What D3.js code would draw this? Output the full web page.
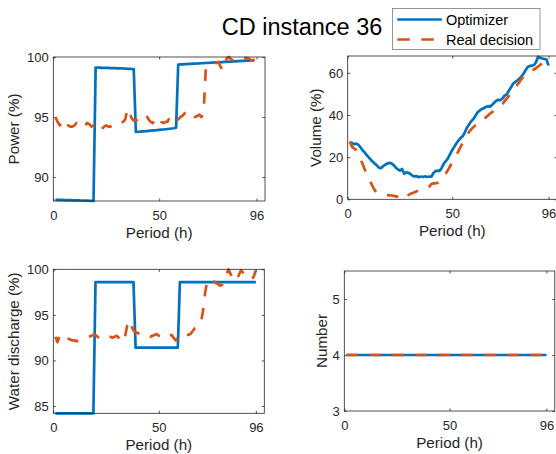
<!DOCTYPE html>
<html><head><meta charset="utf-8">
<script src="https://cdn.jsdelivr.net/npm/d3@7"></script>
<style>
html,body{margin:0;padding:0;background:#fff;}
svg{display:block;font-family:"Liberation Sans",Arial,Helvetica,sans-serif;}
</style></head>
<body>
<svg id="chart" width="556" height="454"></svg>
<script>
// ---------- data ----------
const periods = d3.range(1, 97); // hours 1..96
const xTicks = [0, 50, 96];
const seriesNames = ["Optimizer", "Real decision"];
const titleText = "CD instance 36";

const powerOpt = [
88.10,88.10,88.09,88.09,88.08,88.08,88.07,88.07,88.06,88.06,88.05,88.05,88.04,88.04,88.03,88.03,88.02,88.01,88.00,
99.12,99.11,99.11,99.10,99.10,99.09,99.09,99.08,99.07,99.07,99.06,99.05,99.05,99.04,99.03,99.02,99.01,99.00,99.00,
93.75,93.77,93.78,93.80,93.81,93.83,93.84,93.86,93.88,93.89,93.91,93.93,93.95,93.96,93.98,94.00,94.02,94.04,94.06,94.10,
99.37,99.38,99.39,99.40,99.41,99.42,99.43,99.44,99.45,99.46,99.47,99.48,99.49,99.50,99.51,99.52,99.53,99.54,99.55,99.56,99.57,99.58,99.59,99.60,99.61,99.62,99.63,99.64,99.65,99.66,99.67,99.68,99.69,99.70,99.71,99.72,99.73];
const powerReal = [
95.0,94.6,94.3,94.5,94.8,94.6,94.3,94.2,94.2,94.3,94.5,94.3,94.2,94.1,94.3,94.5,94.4,94.2,94.3,94.5,
94.3,94.1,94.0,94.2,94.3,94.2,94.2,94.3,94.4,94.3,94.4,94.5,94.6,94.8,95.7,95.4,94.9,94.7,94.8,94.6,
94.8,94.9,95.0,95.1,94.8,94.6,94.5,94.7,95.0,94.9,94.6,94.5,94.6,94.6,95.0,95.1,94.8,94.7,94.8,95.0,
95.1,95.3,95.5,95.5,95.4,95.2,95.0,95.1,95.2,95.0,95.4,98.9,99.2,99.3,99.3,99.4,99.5,99.6,99.2,98.9,
99.4,99.9,100.0,99.8,99.7,99.6,99.7,99.7,99.8,99.9,99.9,99.9,99.8,99.7,99.8,99.9];

const volumeOpt = [
27.0,26.8,26.2,26.4,26.0,24.8,23.4,22.4,21.0,20.0,18.8,17.8,16.9,16.0,15.0,14.8,15.8,16.5,17.0,17.3,
17.0,16.2,15.0,14.2,13.6,14.4,12.2,12.8,12.6,12.0,11.2,10.8,11.0,10.5,10.8,10.6,10.9,10.6,10.8,10.7,
12.5,13.4,13.6,13.5,15.0,17.0,18.2,19.6,21.5,23.4,25.0,26.6,28.0,29.2,30.0,31.8,34.0,35.5,37.0,38.0,
39.5,41.2,42.0,42.8,43.2,43.8,44.2,44.0,44.8,45.8,46.8,47.2,47.0,47.8,49.2,49.8,51.5,53.0,54.8,55.6,
56.4,57.2,58.2,59.6,61.2,62.8,63.2,63.4,63.6,65.0,67.6,67.2,66.8,66.6,66.4,63.5];
const volumeReal = [
27.4,25.0,24.2,23.5,21.0,19.0,17.1,14.5,12.0,9.8,8.0,6.0,4.2,3.2,2.6,2.3,2.2,2.1,2.0,1.9,
1.8,1.6,1.4,1.2,0.8,0.3,0.0,0.8,2.0,2.6,3.0,3.4,3.8,4.4,5.0,5.2,5.2,5.4,6.0,7.2,
7.6,7.6,7.8,8.2,9.5,11.0,12.5,14.0,15.8,17.5,19.2,21.0,23.0,25.0,26.8,28.5,30.2,32.0,33.2,34.2,
35.0,35.4,35.6,36.8,37.8,38.8,39.8,40.6,41.4,42.0,42.6,43.2,44.0,45.2,46.6,47.8,49.0,50.2,51.6,53.0,
54.2,55.6,57.0,58.4,59.4,60.2,60.8,61.2,61.6,62.2,63.0,63.8,64.4,64.8,64.4,62.4];

const dischargeOpt = [
84.2,84.2,84.2,84.2,84.2,84.2,84.2,84.2,84.2,84.2,84.2,84.2,84.2,84.2,84.2,84.2,84.2,84.2,84.2,
98.6,98.6,98.6,98.6,98.6,98.6,98.6,98.6,98.6,98.6,98.6,98.6,98.6,98.6,98.6,98.6,98.6,98.6,98.6,
91.4,91.4,91.4,91.4,91.4,91.4,91.4,91.4,91.4,91.4,91.4,91.4,91.4,91.4,91.4,91.4,91.4,91.4,91.4,91.4,91.4,
98.6,98.6,98.6,98.6,98.6,98.6,98.6,98.6,98.6,98.6,98.6,98.6,98.6,98.6,98.6,98.6,98.6,98.6,98.6,98.6,98.6,98.6,98.6,98.6,98.6,98.6,98.6,98.6,98.6,98.6,98.6,98.6,98.6,98.6,98.6,98.6,98.6];
const dischargeReal = [
92.6,92.0,92.8,92.9,92.7,92.6,92.4,92.3,92.2,92.2,92.1,92.2,92.3,92.3,92.4,92.5,92.6,92.7,92.8,92.8,
92.6,92.4,92.3,92.4,92.5,92.6,92.6,92.5,92.6,92.7,92.5,92.2,92.0,92.6,93.8,94.4,93.8,93.3,93.1,93.0,
92.9,92.8,92.8,92.9,92.7,92.6,92.7,92.8,92.9,92.7,92.6,92.8,92.9,92.8,92.7,92.8,92.5,92.2,92.4,92.7,
92.8,92.9,93.0,92.8,92.9,93.2,93.5,93.6,93.8,94.2,95.5,97.5,98.8,98.9,98.8,98.7,98.5,98.4,98.2,98.3,
98.8,99.4,100.0,99.5,99.0,98.7,98.9,99.4,99.9,99.6,99.3,99.1,98.9,98.9,99.2,99.9];

const numberOpt = [
4,4,4,4,4,4,4,4,4,4,4,4,4,4,4,4,4,4,4,4,4,4,4,4,4,4,4,4,4,4,4,4,4,4,4,4,4,4,4,4,4,4,4,4,4,4,4,4,
4,4,4,4,4,4,4,4,4,4,4,4,4,4,4,4,4,4,4,4,4,4,4,4,4,4,4,4,4,4,4,4,4,4,4,4,4,4,4,4,4,4,4,4,4,4,4,4];
const numberReal = [
4,4,4,4,4,4,4,4,4,4,4,4,4,4,4,4,4,4,4,4,4,4,4,4,4,4,4,4,4,4,4,4,4,4,4,4,4,4,4,4,4,4,4,4,4,4,4,4,
4,4,4,4,4,4,4,4,4,4,4,4,4,4,4,4,4,4,4,4,4,4,4,4,4,4,4,4,4,4,4,4,4,4,4,4,4,4,4,4,4,4,4,4,4,4,4,4];

const powerTicks = [90, 95, 100];
const volumeTicks = [0, 20, 40, 60];
const dischargeTicks = [85, 90, 95, 100];
const numberTicks = [3, 4, 5];

// ---------- drawing ----------
const svg = d3.select("#chart");
const BLUE = "#0072BD", RED = "#D95319", AX = "#262626";
const LW = 2.7, DASH = "11.5 11.5";
const LABEL_FS = "15.2px";

const panels = [
  {box:[53.3,265.0,57.0,201.0], xd:[0,100], yd:[88,100], yt:powerTicks, ys:[powerOpt,powerReal], ylab:"Power (%)", ylx:18.5},
  {box:[347.7,556.9,56.0,199.3], xd:[0,100], yd:[0,68], yt:volumeTicks, ys:[volumeOpt,volumeReal], ylab:"Volume (%)", ylx:320.5},
  {box:[53.3,264.3,269.3,413.3], xd:[0,100], yd:[84.2,100], yt:dischargeTicks, ys:[dischargeOpt,dischargeReal], ylab:"Water discharge (%)", ylx:18.5},
  {box:[344.3,554.8,271.0,411.0], xd:[0,100], yd:[3,5.5], yt:numberTicks, ys:[numberOpt,numberReal], ylab:"Number", ylx:326.5}
];

panels.forEach(p => {
  const [x0,x1,y0,y1] = p.box;
  const x = d3.scaleLinear().domain(p.xd).range([x0,x1]);
  const y = d3.scaleLinear().domain(p.yd).range([y1,y0]);
  const g = svg.append("g");

  g.append("rect").attr("x",x0).attr("y",y0).attr("width",x1-x0).attr("height",y1-y0).attr("fill","#fff");

  const styleAxis = sel => {
    sel.select(".domain").remove();
    sel.selectAll(".tick line").attr("stroke",AX).attr("stroke-width",0.8);
    sel.selectAll(".tick text").attr("fill",AX).style("font-size","13px")
       .style("font-family",'"Liberation Sans",Arial,Helvetica,sans-serif');
  };
  g.append("g").attr("transform",`translate(0,${y1})`)
    .call(d3.axisBottom(x).tickValues(xTicks).tickFormat(d3.format("d")).tickSizeInner(-2.5).tickSizeOuter(0).tickPadding(9.3))
    .call(styleAxis);
  g.append("g").attr("transform",`translate(0,${y0})`)
    .call(d3.axisTop(x).tickValues(xTicks).tickFormat("").tickSizeInner(-2.5).tickSizeOuter(0))
    .call(styleAxis);
  g.append("g").attr("transform",`translate(${x0},0)`)
    .call(d3.axisLeft(y).tickValues(p.yt).tickFormat(d3.format("d")).tickSizeInner(-2.5).tickSizeOuter(0).tickPadding(4.5))
    .call(styleAxis);
  g.append("g").attr("transform",`translate(${x1},0)`)
    .call(d3.axisRight(y).tickValues(p.yt).tickFormat("").tickSizeInner(-2.5).tickSizeOuter(0))
    .call(styleAxis);

  const line = d3.line().x((d,i)=>x(periods[i])).y(d=>y(d));
  g.append("path").datum(p.ys[0]).attr("d",line).attr("fill","none")
    .attr("stroke",BLUE).attr("stroke-width",LW).attr("stroke-linejoin","round");
  g.append("path").datum(p.ys[1]).attr("d",line).attr("fill","none")
    .attr("stroke",RED).attr("stroke-width",LW).attr("stroke-dasharray",DASH).attr("stroke-linejoin","round");

  g.append("rect").attr("x",x0).attr("y",y0).attr("width",x1-x0).attr("height",y1-y0)
    .attr("fill","none").attr("stroke",AX).attr("stroke-width",0.8);

  g.append("text").attr("x",(x0+x1)/2).attr("y",y1+37).attr("text-anchor","middle")
    .attr("fill",AX).style("font-size",LABEL_FS).text("Period (h)");
  g.append("text").attr("transform",`translate(${p.ylx},${(y0+y1)/2}) rotate(-90)`)
    .attr("text-anchor","middle").attr("fill",AX).style("font-size",LABEL_FS).text(p.ylab);
});

svg.append("text").attr("x",221.7).attr("y",35).attr("fill","#000")
  .style("font-size","23.5px").text(titleText);

const lg = svg.append("g");
lg.append("rect").attr("x",392.5).attr("y",8.5).attr("width",147.5).attr("height",41)
  .attr("fill","#fff").attr("stroke","#7a7a7a").attr("stroke-width",0.8);
const legendRows = [
  {name:seriesNames[0], color:BLUE, dash:null, y:19.5},
  {name:seriesNames[1], color:RED, dash:"12.5 11.5", y:39.5}
];
legendRows.forEach(r => {
  lg.append("line").attr("x1",397.3).attr("x2",441.7).attr("y1",r.y).attr("y2",r.y)
    .attr("stroke",r.color).attr("stroke-width",LW).attr("stroke-dasharray",r.dash);
  lg.append("text").attr("x",446).attr("y",r.y+5.3).attr("fill","#000")
    .style("font-size","14.5px").text(r.name);
});
</script>
</body></html>
